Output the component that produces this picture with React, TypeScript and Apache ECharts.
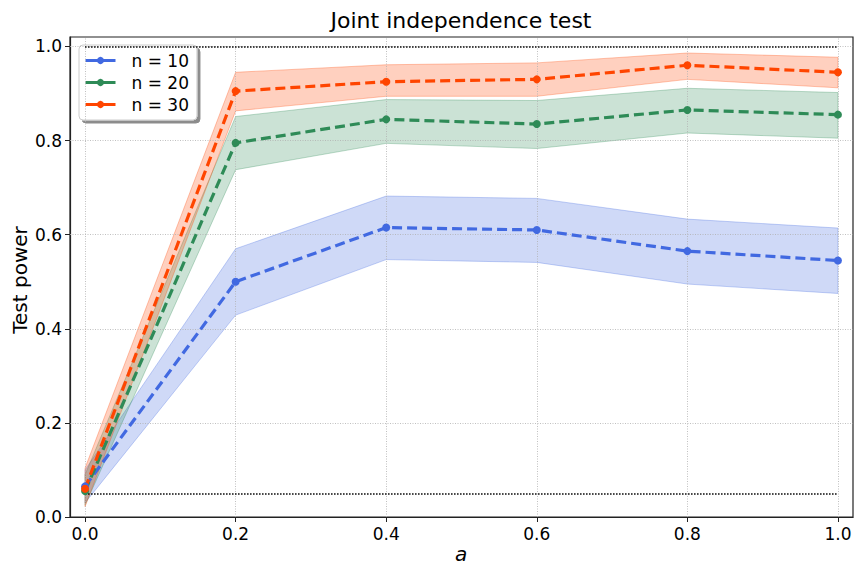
import React, { useEffect, useRef } from "react";
import * as echarts from "echarts";

const xs = [0, 0.2, 0.4, 0.6, 0.8, 1.0];
const seriesNames = ["n = 10", "n = 20", "n = 30"];
const colors = ["#4169E1", "#2E8B57", "#FF4500"];
const bandFills = ["rgba(65,105,225,0.25)", "rgba(46,139,87,0.25)", "rgba(255,69,0,0.25)"];
const bandEdges = ["rgba(65,105,225,0.3)", "rgba(46,139,87,0.3)", "rgba(255,69,0,0.3)"];

const power10 = [0.065, 0.5, 0.615, 0.61, 0.565, 0.545];
const lower10 = [0.03, 0.429, 0.547, 0.541, 0.495, 0.475];
const upper10 = [0.1, 0.57, 0.682, 0.677, 0.633, 0.614];

const power20 = [0.055, 0.795, 0.845, 0.835, 0.865, 0.855];
const lower20 = [0.025, 0.738, 0.794, 0.783, 0.816, 0.805];
const upper20 = [0.09, 0.851, 0.887, 0.885, 0.911, 0.902];

const power30 = [0.06, 0.905, 0.925, 0.93, 0.96, 0.945];
const lower30 = [0.022, 0.863, 0.894, 0.894, 0.93, 0.912];
const upper30 = [0.104, 0.945, 0.961, 0.965, 0.986, 0.977];

const tickValues = [0, 0.2, 0.4, 0.6, 0.8, 1.0];
const refLevels = [0.05, 1.0];

const FONT = "DejaVu Sans";

export default function App() {
  const ref = useRef<HTMLDivElement>(null);
  useEffect(() => {
    if (!ref.current) return;
    const chart = echarts.init(ref.current, null, { renderer: "svg" });
    const powers = [power10, power20, power30];
    const lowers = [lower10, lower20, lower30];
    const uppers = [upper10, upper20, upper30];

    const bandSeries = powers.map((_, k) => ({
      type: "custom",
      name: "band" + k,
      data: [0],
      silent: true,
      clip: false,
      z: 1 + k * 0.01,
      renderItem: (params: any, api: any) => {
        const up = uppers[k].map((u, i) => api.coord([xs[i], u]));
        const lo = lowers[k].map((l, i) => api.coord([xs[i], l])).reverse();
        return {
          type: "polygon",
          shape: { points: up.concat(lo) },
          style: { fill: bandFills[k], stroke: bandEdges[k], lineWidth: 1 },
        };
      },
    }));

    const lineSeries = powers.map((p, k) => ({
      type: "line",
      name: seriesNames[k],
      data: xs.map((x, i) => [x, p[i]]),
      color: colors[k],
      symbol: "circle",
      symbolSize: 8,
      z: 5,
      lineStyle: { width: 3.2, type: [10, 5], color: colors[k] },
      itemStyle: { color: colors[k] },
    }));

    const gridLineStyle = { color: "#b0b0b0", type: [1, 1.5], width: 0.8 };
    const gridSeries = {
      type: "line",
      name: "grid",
      data: [],
      silent: true,
      z: 0,
      markLine: {
        silent: true,
        symbol: ["none", "none"],
        label: { show: false },
        animation: false,
        lineStyle: gridLineStyle,
        data: [
          ...tickValues.map((v) => ({ xAxis: v })),
          ...tickValues.filter((v) => v > 0).map((v) => ({ yAxis: v })),
        ],
      },
    };
    const refSeries = {
      type: "line",
      name: "ref",
      data: [],
      silent: true,
      z: 2,
      markLine: {
        silent: true,
        symbol: ["none", "none"],
        label: { show: false },
        animation: false,
        lineStyle: { color: "#000", type: [1.5, 1.5], width: 1.5 },
        data: refLevels.map((v) => [
          { coord: [0, v] },
          { coord: [1, v] },
        ]),
      },
    };

    chart.setOption({
      animation: false,
      backgroundColor: "#fff",
      textStyle: { fontFamily: FONT },
      grid: {
        left: 70,
        right: 11,
        top: 37,
        bottom: 59,
        show: true,
        borderColor: "#222",
        borderWidth: 1.2,
        backgroundColor: "transparent",
      },
      legend: {
        data: seriesNames,
        orient: "vertical",
        left: 79,
        top: 45,
        itemWidth: 30,
        itemHeight: 9,
        itemGap: 5,
        padding: [7, 8, 7, 5],
        backgroundColor: "#fff",
        borderColor: "#cccccc",
        borderWidth: 1,
        borderRadius: 4,
        shadowColor: "rgba(0,0,0,0.45)",
        shadowOffsetX: 3,
        shadowOffsetY: 3,
        shadowBlur: 0,
        lineStyle: { type: "solid", width: 3 },
        textStyle: { fontFamily: FONT, fontSize: 17, color: "#000", padding: [0, 0, 0, 11] },
      },
      xAxis: {
        type: "value",
        min: -0.02,
        max: 1.02,
        splitLine: { show: false },
        axisLine: { show: true, onZero: false, lineStyle: { color: "#222", width: 1.2 } },
        axisTick: {
          show: true,
          customValues: tickValues,
          length: 5,
          lineStyle: { color: "#222", width: 1 },
        },
        axisLabel: {
          customValues: tickValues,
          formatter: (v: number) => v.toFixed(1),
          fontFamily: FONT,
          fontSize: 17,
          color: "#000",
          margin: 8,
        },
      },
      yAxis: {
        type: "value",
        min: 0,
        max: 1.02,
        splitLine: { show: false },
        axisLine: { show: true, onZero: false, lineStyle: { color: "#222", width: 1.2 } },
        axisTick: {
          show: true,
          customValues: tickValues,
          length: 5,
          lineStyle: { color: "#222", width: 1 },
        },
        axisLabel: {
          customValues: tickValues,
          formatter: (v: number) => v.toFixed(1),
          fontFamily: FONT,
          fontSize: 17,
          color: "#000",
          margin: 8,
        },
      },
      graphic: [
        {
          type: "text",
          x: 461,
          y: 20,
          style: {
            text: "Joint independence test",
            fontFamily: FONT,
            fontSize: 22,
            fill: "#000",
            textAlign: "center",
            textVerticalAlign: "middle",
          },
        },
        {
          type: "text",
          x: 461,
          y: 554,
          style: {
            text: "a",
            fontFamily: FONT,
            fontSize: 20,
            fontStyle: "italic",
            fill: "#000",
            textAlign: "center",
            textVerticalAlign: "middle",
          },
        },
        {
          type: "text",
          x: 20,
          y: 280,
          rotation: Math.PI / 2,
          style: {
            text: "Test power",
            fontFamily: FONT,
            fontSize: 20,
            fill: "#000",
            textAlign: "center",
            textVerticalAlign: "middle",
          },
        },
      ],
      series: [gridSeries, ...bandSeries, refSeries, ...lineSeries],
    });
    return () => chart.dispose();
  }, []);
  return (
    <div
      ref={ref}
      style={{ position: "absolute", left: 0, top: 0, width: 864, height: 576 }}
    />
  );
}
